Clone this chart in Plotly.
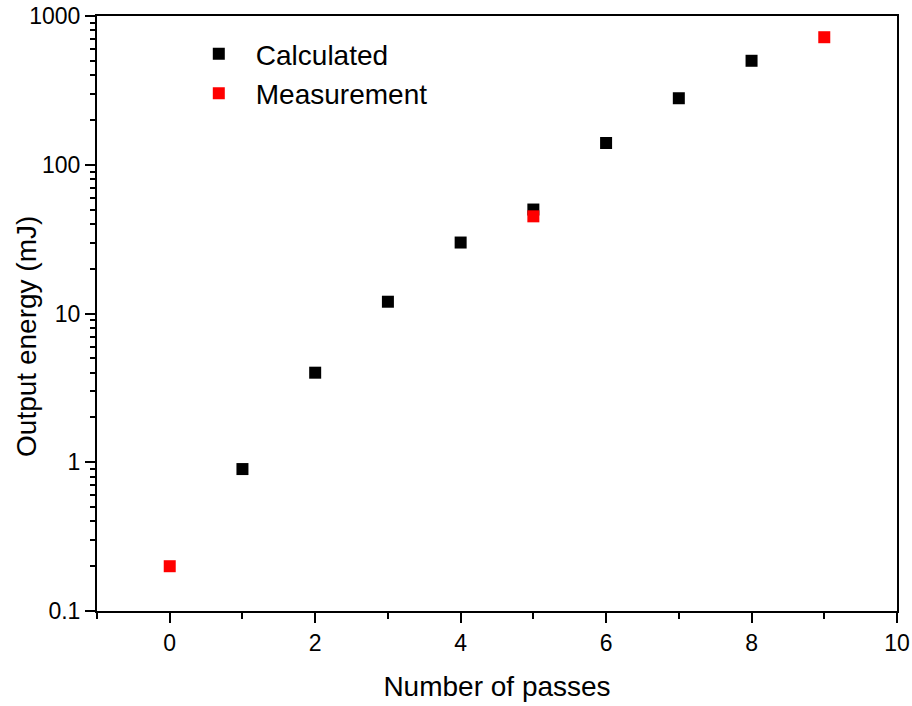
import plotly.graph_objects as go

# Amplifier output energy per pass
calc_passes = [1, 2, 3, 4, 5, 6, 7, 8]
calc_energy = [0.9, 4, 12, 30, 50, 140, 280, 500]

meas_passes = [0, 5, 9]
meas_energy = [0.2, 45, 720]

y_major = [0.1, 1, 10, 100, 1000]
y_major_text = ["0.1", "1", "10", "100", "1000"]

FONT = "Liberation Sans, Arial, sans-serif"

# minor log ticks at 2..9 within each decade
y_minor = [m * d for d in y_major[:-1] for m in range(2, 10)]

fig = go.Figure()
fig.add_trace(go.Scatter(
    x=calc_passes, y=calc_energy, mode="markers", name="Calculated",
    marker=dict(symbol="square", size=12, color="black", line=dict(width=0)),
))
fig.add_trace(go.Scatter(
    x=meas_passes, y=meas_energy, mode="markers", name="Measurement",
    marker=dict(symbol="square", size=12, color="red", line=dict(width=0)),
))

axis_common = dict(
    showline=True, linecolor="black", linewidth=2, mirror=True,
    showgrid=False, zeroline=False, ticks="outside", ticklen=10,
    tickwidth=2, tickcolor="black", automargin=False,
    tickfont=dict(family=FONT, size=23, color="black"),
)

fig.update_xaxes(
    range=[-1, 10], tickmode="array", tickvals=[0, 2, 4, 6, 8, 10],
    minor=dict(ticks="outside", ticklen=6, tickwidth=2, tickcolor="black",
               tickmode="array", tickvals=[-1, 1, 3, 5, 7, 9], showgrid=False),
    title=dict(text="Number of passes", font=dict(family=FONT, size=28, color="black"),
               standoff=22),
    **axis_common,
)
fig.update_yaxes(
    type="log", range=[-1, 3],
    tickmode="array", tickvals=y_major, ticktext=y_major_text,
    minor=dict(ticks="outside", ticklen=5, tickwidth=2, tickcolor="black",
               tickmode="array", tickvals=y_minor, showgrid=False),
    **axis_common,
)

# y-axis title, placed slightly below the axis midpoint
fig.add_annotation(
    text="Output energy (mJ)", textangle=-90, showarrow=False,
    xref="paper", yref="paper", x=-0.089, y=0.462,
    xanchor="center", yanchor="middle",
    font=dict(family=FONT, size=28, color="black"),
)

fig.update_layout(
    width=912, height=706,
    margin=dict(l=97, r=15, t=16, b=95),
    plot_bgcolor="white", paper_bgcolor="white",
    showlegend=True,
    legend=dict(
        x=0.106, y=0.978, xanchor="left", yanchor="top",
        bgcolor="rgba(0,0,0,0)", borderwidth=0,
        font=dict(family=FONT, size=28, color="black"),
        itemwidth=64, tracegroupgap=0,
    ),
)

fig.write_html("out.html")
